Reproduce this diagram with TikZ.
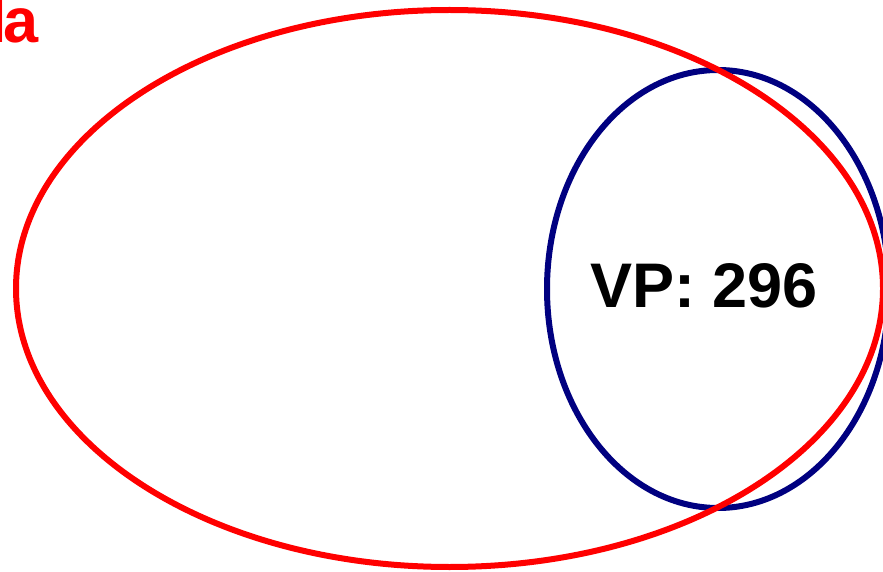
\documentclass[tikz,border=0pt]{standalone}
\usepackage{fontspec}
\setmainfont{Liberation Sans}
\usetikzlibrary{shapes.geometric}
\definecolor{vpblue}{HTML}{000080}
\definecolor{setred}{HTML}{FF0000}
\begin{document}
\begin{tikzpicture}[x=1pt,y=1pt,
  setellipse/.style={ellipse,draw,line width=6pt,inner sep=0pt,outer sep=0pt},
  biglabel/.style={font=\fontsize{63}{70}\selectfont\bfseries,inner sep=0pt}]
\useasboundingbox (0,0) rectangle (883,571);
\clip (0,0) rectangle (883,571);
\fill[white] (0,0) rectangle (883,571);
\node[setellipse,draw=vpblue,minimum width=342pt,minimum height=438pt] (vp) at (718,282) {};
\node[setellipse,draw=setred,minimum width=867pt,minimum height=557pt] (la) at (449.5,282.5) {};
\node[biglabel,text=black,anchor=base] (vptext) at (704,264) {VP: 296};
\node[biglabel,text=setred,anchor=base east] (latext) at (39,528) {l\kern-3pt a};
\end{tikzpicture}
\end{document}
